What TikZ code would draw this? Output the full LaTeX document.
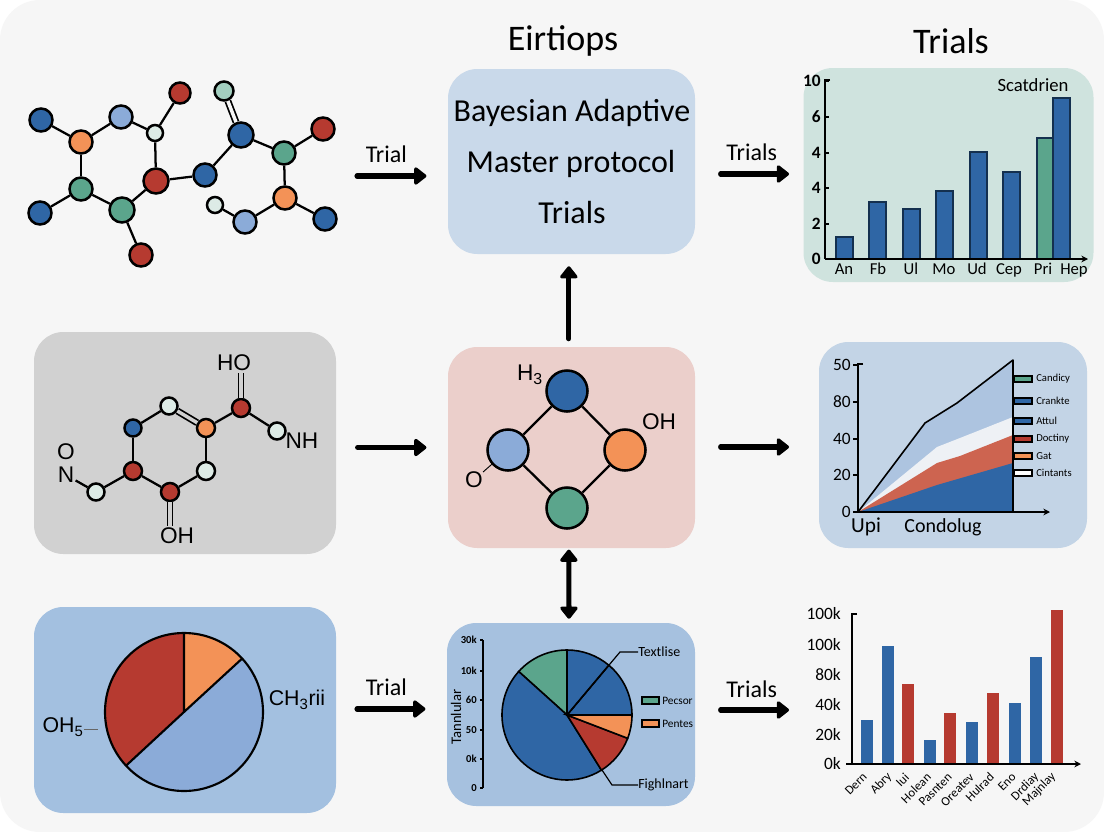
\documentclass[tikz,border=0pt]{standalone}
\usepackage{fontspec}
\setmainfont{Carlito}
\newfontfamily\chemfont{Liberation Sans}
\usetikzlibrary{
    arrows.meta,
    calc,
    positioning
}
\definecolor{cblue}{HTML}{2F66A5}
\definecolor{clight}{HTML}{8BABD8}
\definecolor{corange}{HTML}{F39257}
\definecolor{cgreen}{HTML}{5BA58C}
\definecolor{cred}{HTML}{B63A30}
\definecolor{cpale}{HTML}{DDEBE6}
\definecolor{cteal}{HTML}{A3CFC0}
\definecolor{cnavy}{HTML}{14304F}
\definecolor{bgrey}{HTML}{F6F6F6}
\definecolor{pgrey}{HTML}{D1D1D1}
\definecolor{ptopc}{HTML}{C9D9EA}
\definecolor{ptopr}{HTML}{CFE3DE}
\definecolor{pmidc}{HTML}{EBCFCB}
\definecolor{pmidr}{HTML}{C3D4E6}
\definecolor{pbotl}{HTML}{A3C0E0}
\definecolor{pbotc}{HTML}{A6C1DF}
\definecolor{arlight}{HTML}{ADC4E0}
\definecolor{arwhite}{HTML}{EEF1F5}
\definecolor{arred}{HTML}{CD6450}
\tikzset{pnl/.style={inner sep=0pt, rounded corners=22pt, draw=none}}
\tikzset{atm/.style={inner sep=0pt, circle, draw=black, line width=1.9pt, minimum size=#1*0.75pt}}
\tikzset{bnd/.style={line width=1.7pt, draw=black}}
\tikzset{dbl/.style={line width=1.3pt, double=#1, double distance=2.6pt}}
\tikzset{bigarr/.style={line width=3.8pt, line cap=round, -{Triangle[round,length=10pt,width=15pt]}}}
\tikzset{bigboth/.style={line width=3.8pt, {Triangle[round,length=10pt,width=15pt]}-{Triangle[round,length=10pt,width=15pt]}}}
\tikzset{axs/.style={line width=0.9pt, draw=black}}
\tikzset{axa/.style={line width=0.9pt, draw=black, -{Stealth[length=5pt,width=5pt]}}}
\tikzset{barb/.style={draw=cnavy, line width=1pt, fill=cblue}}
\tikzset{swt/.style={draw=black, line width=0.8pt}}
\tikzset{chem/.style={inner sep=0pt, font=\chemfont\fontsize{17}{17}\selectfont}}
\tikzset{head/.style={inner sep=0pt, font=\fontsize{27}{27}\selectfont}}
\tikzset{lab/.style={inner sep=0pt, font=\fontsize{18}{18}\selectfont}}
\tikzset{inpnl/.style={inner sep=0pt, font=\fontsize{24}{24}\selectfont}}
\begin{document}
\begin{tikzpicture}[x=0.75pt, y=-0.75pt]
    \useasboundingbox (0,0) rectangle (1104,832);
    \fill[white] (0,0) rectangle (1104,832);
    \fill[bgrey, rounded corners=30pt] (0,0) rectangle (1104,832);

    % panels
    \node[pnl, fill=ptopc, minimum width=185.25pt, minimum height=138.75pt] (pnlTC) at (571.5,161.5) {};
    \node[pnl, fill=ptopr, minimum width=217.5pt, minimum height=160.5pt] (pnlTR) at (948.5,175) {};
    \node[pnl, fill=pgrey, minimum width=226.5pt, minimum height=166.5pt] (pnlML) at (185,443) {};
    \node[pnl, fill=pmidc, minimum width=185.25pt, minimum height=150.75pt] (pnlMC) at (571.5,447.5) {};
    \node[pnl, fill=pmidr, minimum width=201pt, minimum height=154.5pt] (pnlMR) at (953,445) {};
    \node[pnl, fill=pbotl, minimum width=226.5pt, minimum height=154.5pt] (pnlBL) at (185,710) {};
    \node[pnl, fill=pbotc, minimum width=186pt, minimum height=137.25pt] (pnlBC) at (571,714.5) {};

    % headings and panel text
    \node[head] (ttlA) at (563,41) {Eirtiops};
    \node[head] (ttlB) at (951,41) {Trials};
    \node[inpnl] (txtA) at (572,113) {Bayesian Adaptive};
    \node[inpnl] (txtB) at (571,164) {Master protocol};
    \node[inpnl] (txtC) at (572,213) {Trials};

    % first molecule
    \node[atm=23, fill=cblue] (a1) at (41,120) {};
    \node[atm=23, fill=corange] (a2) at (81,142) {};
    \node[atm=23, fill=clight] (a3) at (121,117) {};
    \node[atm=16, fill=cpale] (a4) at (155,133) {};
    \node[atm=21, fill=cred] (a5) at (180,93) {};
    \node[atm=25, fill=cred] (a6) at (156,181) {};
    \node[atm=23, fill=cgreen] (a7) at (81,189) {};
    \node[atm=25, fill=cgreen] (a8) at (122,210) {};
    \node[atm=23, fill=cblue] (a9) at (40,213) {};
    \node[atm=23, fill=cred] (a10) at (141,255) {};
    \node[atm=23, fill=cblue] (a11) at (205,175) {};
    \node[atm=25, fill=cblue] (a12) at (241,135) {};
    \node[atm=19, fill=cteal] (a13) at (224,91) {};
    \node[atm=23, fill=cgreen] (a14) at (284,153) {};
    \node[atm=23, fill=cred] (a15) at (323,129) {};
    \node[atm=23, fill=corange] (a16) at (285,198) {};
    \node[atm=23, fill=cblue] (a17) at (325,219) {};
    \node[atm=23, fill=clight] (a18) at (245,222) {};
    \node[atm=16, fill=cpale] (a19) at (215,205) {};
    \foreach \na/\nb in {a1/a2, a2/a3, a3/a4, a4/a5, a4/a6, a2/a7, a7/a8, a7/a9, a8/a6, a8/a10, a6/a11, a11/a12, a12/a14, a14/a15, a14/a16, a16/a17, a16/a18, a18/a19}
        \draw[bnd] (\na) -- (\nb);
    \draw[dbl=bgrey] (a12) -- (a13);

    % second molecule
    \node[atm=17, fill=cblue] (b1) at (133,428) {};
    \node[atm=17, fill=cpale] (b2) at (169,406) {};
    \node[atm=18, fill=corange] (b3) at (206,428) {};
    \node[atm=18, fill=cred] (b4) at (241,408) {};
    \node[atm=17, fill=cpale] (b5) at (277,431) {};
    \node[atm=18, fill=cpale] (b6) at (206,471) {};
    \node[atm=18, fill=cred] (b7) at (170,492) {};
    \node[atm=18, fill=cred] (b8) at (133,471) {};
    \node[atm=17, fill=cpale] (b9) at (96,492) {};
    \node[chem] (lHO) at (234,363) {HO};
    \node[chem] (lNH) at (302,441) {NH};
    \node[chem] (lOH) at (177,536) {OH};
    \node[chem] (lN) at (66,475) {N};
    \node[chem] (lO) at (66,452) {O};
    \foreach \na/\nb in {b1/b2, b3/b4, b4/b5, b3/b6, b6/b7, b7/b8, b8/b1, b8/b9}
        \draw[bnd] (\na) -- (\nb);
    \draw[bnd, shorten <=1pt] (lN) -- (b9);
    \draw[dbl=pgrey] (b2) -- (b3);
    \draw[dbl=pgrey, shorten >=1pt] (b4) -- (b4 |- lHO.south);
    \draw[dbl=pgrey, shorten >=1pt] (b7) -- (b7 |- lOH.north);

    % ring in the pink panel
    \node[atm=41, fill=cblue] (c1) at (567,391) {};
    \node[atm=41, fill=clight] (c2) at (508,450) {};
    \node[atm=41, fill=corange] (c3) at (625,450) {};
    \node[atm=41, fill=cgreen] (c4) at (567,508) {};
    \node[chem] (lH) at (530,375) {H\textsubscript{3}};
    \node[chem] (lOHb) at (659,422) {OH};
    \node[chem] (lOb) at (474,480) {O};
    \draw[bnd] (c1) -- (c2);
    \draw[bnd] (c1) -- (c3);
    \draw[bnd] (c2) -- (c4);
    \draw[bnd] (c3) -- (c4);
    \draw[line width=0.7pt] (lOb) -- (c2);

    % pie in the blue panel
    \coordinate (pieA) at (184,712);
    \fill[cred] (pieA) -- ++(90:59.25pt) arc[start angle=90, end angle=222.8, radius=59.25pt] -- cycle;
    \fill[corange] (pieA) -- ++(90:59.25pt) arc[start angle=90, end angle=42.6, radius=59.25pt] -- cycle;
    \fill[clight] (pieA) -- ++(42.6:59.25pt) arc[start angle=42.6, end angle=-137.2, radius=59.25pt] -- cycle;
    \draw[line width=1.6pt] (pieA) circle[radius=59.25pt];
    \draw[line width=1.6pt] (pieA) -- ++(90:59.25pt) (pieA) -- ++(42.6:59.25pt) (pieA) -- ++(222.8:59.25pt);
    \node[chem, font=\chemfont\fontsize{16}{16}\selectfont] (lCH) at (297,700) {CH\textsubscript{3}rii};
    \node[chem, font=\chemfont\fontsize{16}{16}\selectfont] (lOHc) at (63,727) {OH\textsubscript{5}};
    \coordinate (leadA) at (98,729);
    \draw[line width=0.4pt, draw=black!60] (lOHc.east |- leadA) -- (leadA);

    % arrows
    \coordinate (startA) at (357,176);
    \coordinate (startB) at (357,709);
    \coordinate (endA) at (789,174);
    \coordinate (endB) at (789,447);
    \coordinate (endC) at (789,710);
    \draw[bigarr, shorten >=16pt] (startA) -- (startA -| pnlTC.west);
    \draw[bigarr, shorten <=16pt, shorten >=16pt] (pnlML.east |- pnlMC.center) -- (pnlMC.west);
    \draw[bigarr, shorten >=16pt] (startB) -- (startB -| pnlBC.west);
    \draw[bigarr, shorten <=19pt] (endA -| pnlTC.east) -- (endA);
    \draw[bigarr, shorten <=19pt] (endB -| pnlMC.east) -- (endB);
    \draw[bigarr, shorten <=19pt] (endC -| pnlBC.east) -- (endC);
    \draw[bigarr, shorten <=6pt, shorten >=9pt] ([xshift=-2pt]pnlMC.north) -- ([xshift=-2pt]pnlTC.south);
    \draw[bigboth, shorten <=1pt, shorten >=3pt] ([xshift=-2pt]pnlMC.south) -- ([xshift=-1.5pt]pnlBC.north);
    \node[lab, above=10pt of startA, xshift=22pt] (lblA) {Trial};
    \node[lab, above=10pt of endA, xshift=-28pt] (lblB) {Trials};
    \node[lab, above=10pt of startB, xshift=22pt] (lblC) {Trial};
    \node[lab, above=9pt of endC, xshift=-28pt] (lblD) {Trials};

    % top right chart
    \foreach \xa/\ya in {836/237, 869/202, 903/209, 936/191, 970/152, 1003/172, 1053/98}
        \draw[barb] (\xa,259) rectangle (\xa+17,\ya);
    \draw[barb, fill=cgreen] (1037,259) rectangle (1053,138);
    \draw[axs, line width=1.1pt] (830,80) -- (825,80) -- (825,259);
    \draw[axa, line width=1.1pt] (825,259) -- (1088,259);
    \foreach \ya/\tk in {81/10, 117/6, 153/4, 188/4, 224/2, 259/0}{
        \draw[axs] (825,\ya) -- (829,\ya);
        \node[inner sep=0pt, anchor=east, font=\fontsize{13}{13}\selectfont\bfseries] at (821,\ya) {\tk};
    }
    \foreach \xa/\tk in {844/An, 878/Fb, 911/Ul, 944/Mo, 977/Ud, 1009/Cep, 1043/Pri, 1074/Hep}
        \node[inner sep=0pt, font=\fontsize{12.5}{13}\selectfont] at (\xa,271) {\strut\tk};
    \node[inner sep=0pt, font=\fontsize{14}{14}\selectfont] (ttlC) at (1033,85) {Scatdrien};

    % middle right chart
    \fill[arlight] (858,512) -- (925,423) -- (933,418) -- (957,403) -- (1013,360) -- (1013,512) -- cycle;
    \fill[arwhite] (858,512) -- (937,447) -- (960,438) -- (1013,417) -- (1013,512) -- cycle;
    \fill[arred] (858,512) -- (937,463) -- (960,456) -- (1013,435) -- (1013,512) -- cycle;
    \fill[cblue] (858,512) -- (937,485) -- (1013,463) -- (1013,512) -- cycle;
    \draw[line width=1.2pt, line join=round] (858,512) -- (925,423) -- (933,418) -- (957,403) -- (1013,360) -- (1013,512);
    \draw[axs, line width=1.2pt] (863,364) -- (858,364) -- (858,512);
    \draw[axa, line width=1.2pt] (858,512) -- (1050,512);
    \foreach \ya/\tk in {365/50, 402/80, 439/40, 475/20, 512/0}{
        \draw[axs] (858,\ya) -- (853,\ya);
        \node[inner sep=0pt, anchor=east, font=\fontsize{13}{13}\selectfont] at (851,\ya) {\tk};
    }
    \foreach \ya/\cc/\tk in {379/cgreen/Candicy, 401/cblue/Crankte, 421/cblue/Attul, 439/cred/Doctiny, 456/corange/Gat, 473/white/Cintants}{
        \draw[swt, fill=\cc] (1014,\ya-3) rectangle (1032,\ya+3);
        \node[inner sep=0pt, anchor=west, font=\fontsize{8}{8}\selectfont] at (1036,\ya) {\tk};
    }
    \node[inner sep=0pt, font=\fontsize{16}{16}\selectfont] (lblUp) at (866,527) {Upi};
    \node[inner sep=0pt, font=\fontsize{15}{15}\selectfont] (lblCn) at (943,527) {Condolug};

    % pie in the lower middle panel
    \coordinate (pieB) at (567,715);
    \filldraw[fill=cblue, line width=1.2pt] (pieB) -- ++(50:48.75pt) arc[start angle=50, end angle=0, radius=48.75pt] -- cycle;
    \filldraw[fill=cblue, line width=1.2pt] (pieB) -- ++(90:48.75pt) arc[start angle=90, end angle=50, radius=48.75pt] -- cycle;
    \filldraw[fill=cgreen, line width=1.2pt] (pieB) -- ++(138:48.75pt) arc[start angle=138, end angle=90, radius=48.75pt] -- cycle;
    \filldraw[fill=cblue, line width=1.2pt] (pieB) -- ++(138:48.75pt) arc[start angle=138, end angle=302, radius=48.75pt] -- cycle;
    \filldraw[fill=cred, line width=1.2pt] (pieB) -- ++(-58:48.75pt) arc[start angle=-58, end angle=-21, radius=48.75pt] -- cycle;
    \filldraw[fill=corange, line width=1.2pt] (pieB) -- ++(-21:48.75pt) arc[start angle=-21, end angle=0, radius=48.75pt] -- cycle;
    \draw[axs] (483,640) -- (483,788);
    \foreach \ya/\tk in {640/30k, 671/10k, 700/60, 730/50, 759/0k, 788/0}{
        \draw[axs] (483,\ya) -- (480,\ya);
        \node[inner sep=0pt, anchor=east, font=\fontsize{8}{8}\selectfont\bfseries] at (477,\ya) {\tk};
    }
    \node[inner sep=0pt, rotate=90, font=\fontsize{11}{11}\selectfont] (lblTn) at (456,717) {Tannlular};
    \node[inner sep=0pt, anchor=west, font=\fontsize{10.5}{11}\selectfont] (lblTx) at (638,652) {Textlise};
    \node[inner sep=0pt, anchor=west, font=\fontsize{10.5}{11}\selectfont] (lblFg) at (638,785) {Fighlnart};
    \draw[line width=0.9pt] (pieB) -- (620,652) -- (lblTx);
    \draw[line width=0.9pt] (602,770) -- (612,785) -- (lblFg);
    \node[inner sep=0pt, anchor=west, font=\fontsize{8.5}{9}\selectfont] (lblPc) at (662,701) {Pecsor};
    \node[inner sep=0pt, anchor=west, font=\fontsize{8.5}{9}\selectfont] (lblPn) at (662,724) {Pentes};
    \draw[swt, fill=cgreen] (642,697) rectangle (659,704);
    \draw[swt, fill=corange] (642,720) rectangle (659,727);

    % lower right chart
    \foreach \xa/\ya/\cc/\xb/\tk in {861/720/cblue/865/Dern, 882/646/cblue/890/Abry, 902/684/cred/907/Iui, 924/740/cblue/929/Holean, 944/713/cred/950/Pasnten, 966/722/cblue/972/Oreatev, 987/693/cred/992/Hulrad, 1009/703/cblue/1014/Eno, 1030/657/cblue/1037/Drdiay, 1051/610/cred/1054/Majnlay}{
        \fill[\cc] (\xa,764) rectangle (\xa+12,\ya);
        \node[inner sep=0pt, anchor=east, rotate=45, font=\fontsize{9.5}{10}\selectfont] at (\xb,775) {\tk};
    }
    \draw[axs] (857,614) -- (852,614) -- (852,764);
    \draw[axa] (846,764) -- (1081,764);
    \foreach \ya/\tk in {614/100k, 645/100k, 675/80k, 705/40k, 735/20k, 764/0k}
        \node[inner sep=0pt, anchor=east, font=\fontsize{13}{13}\selectfont] at (841,\ya) {\tk};
\end{tikzpicture}
\end{document}
